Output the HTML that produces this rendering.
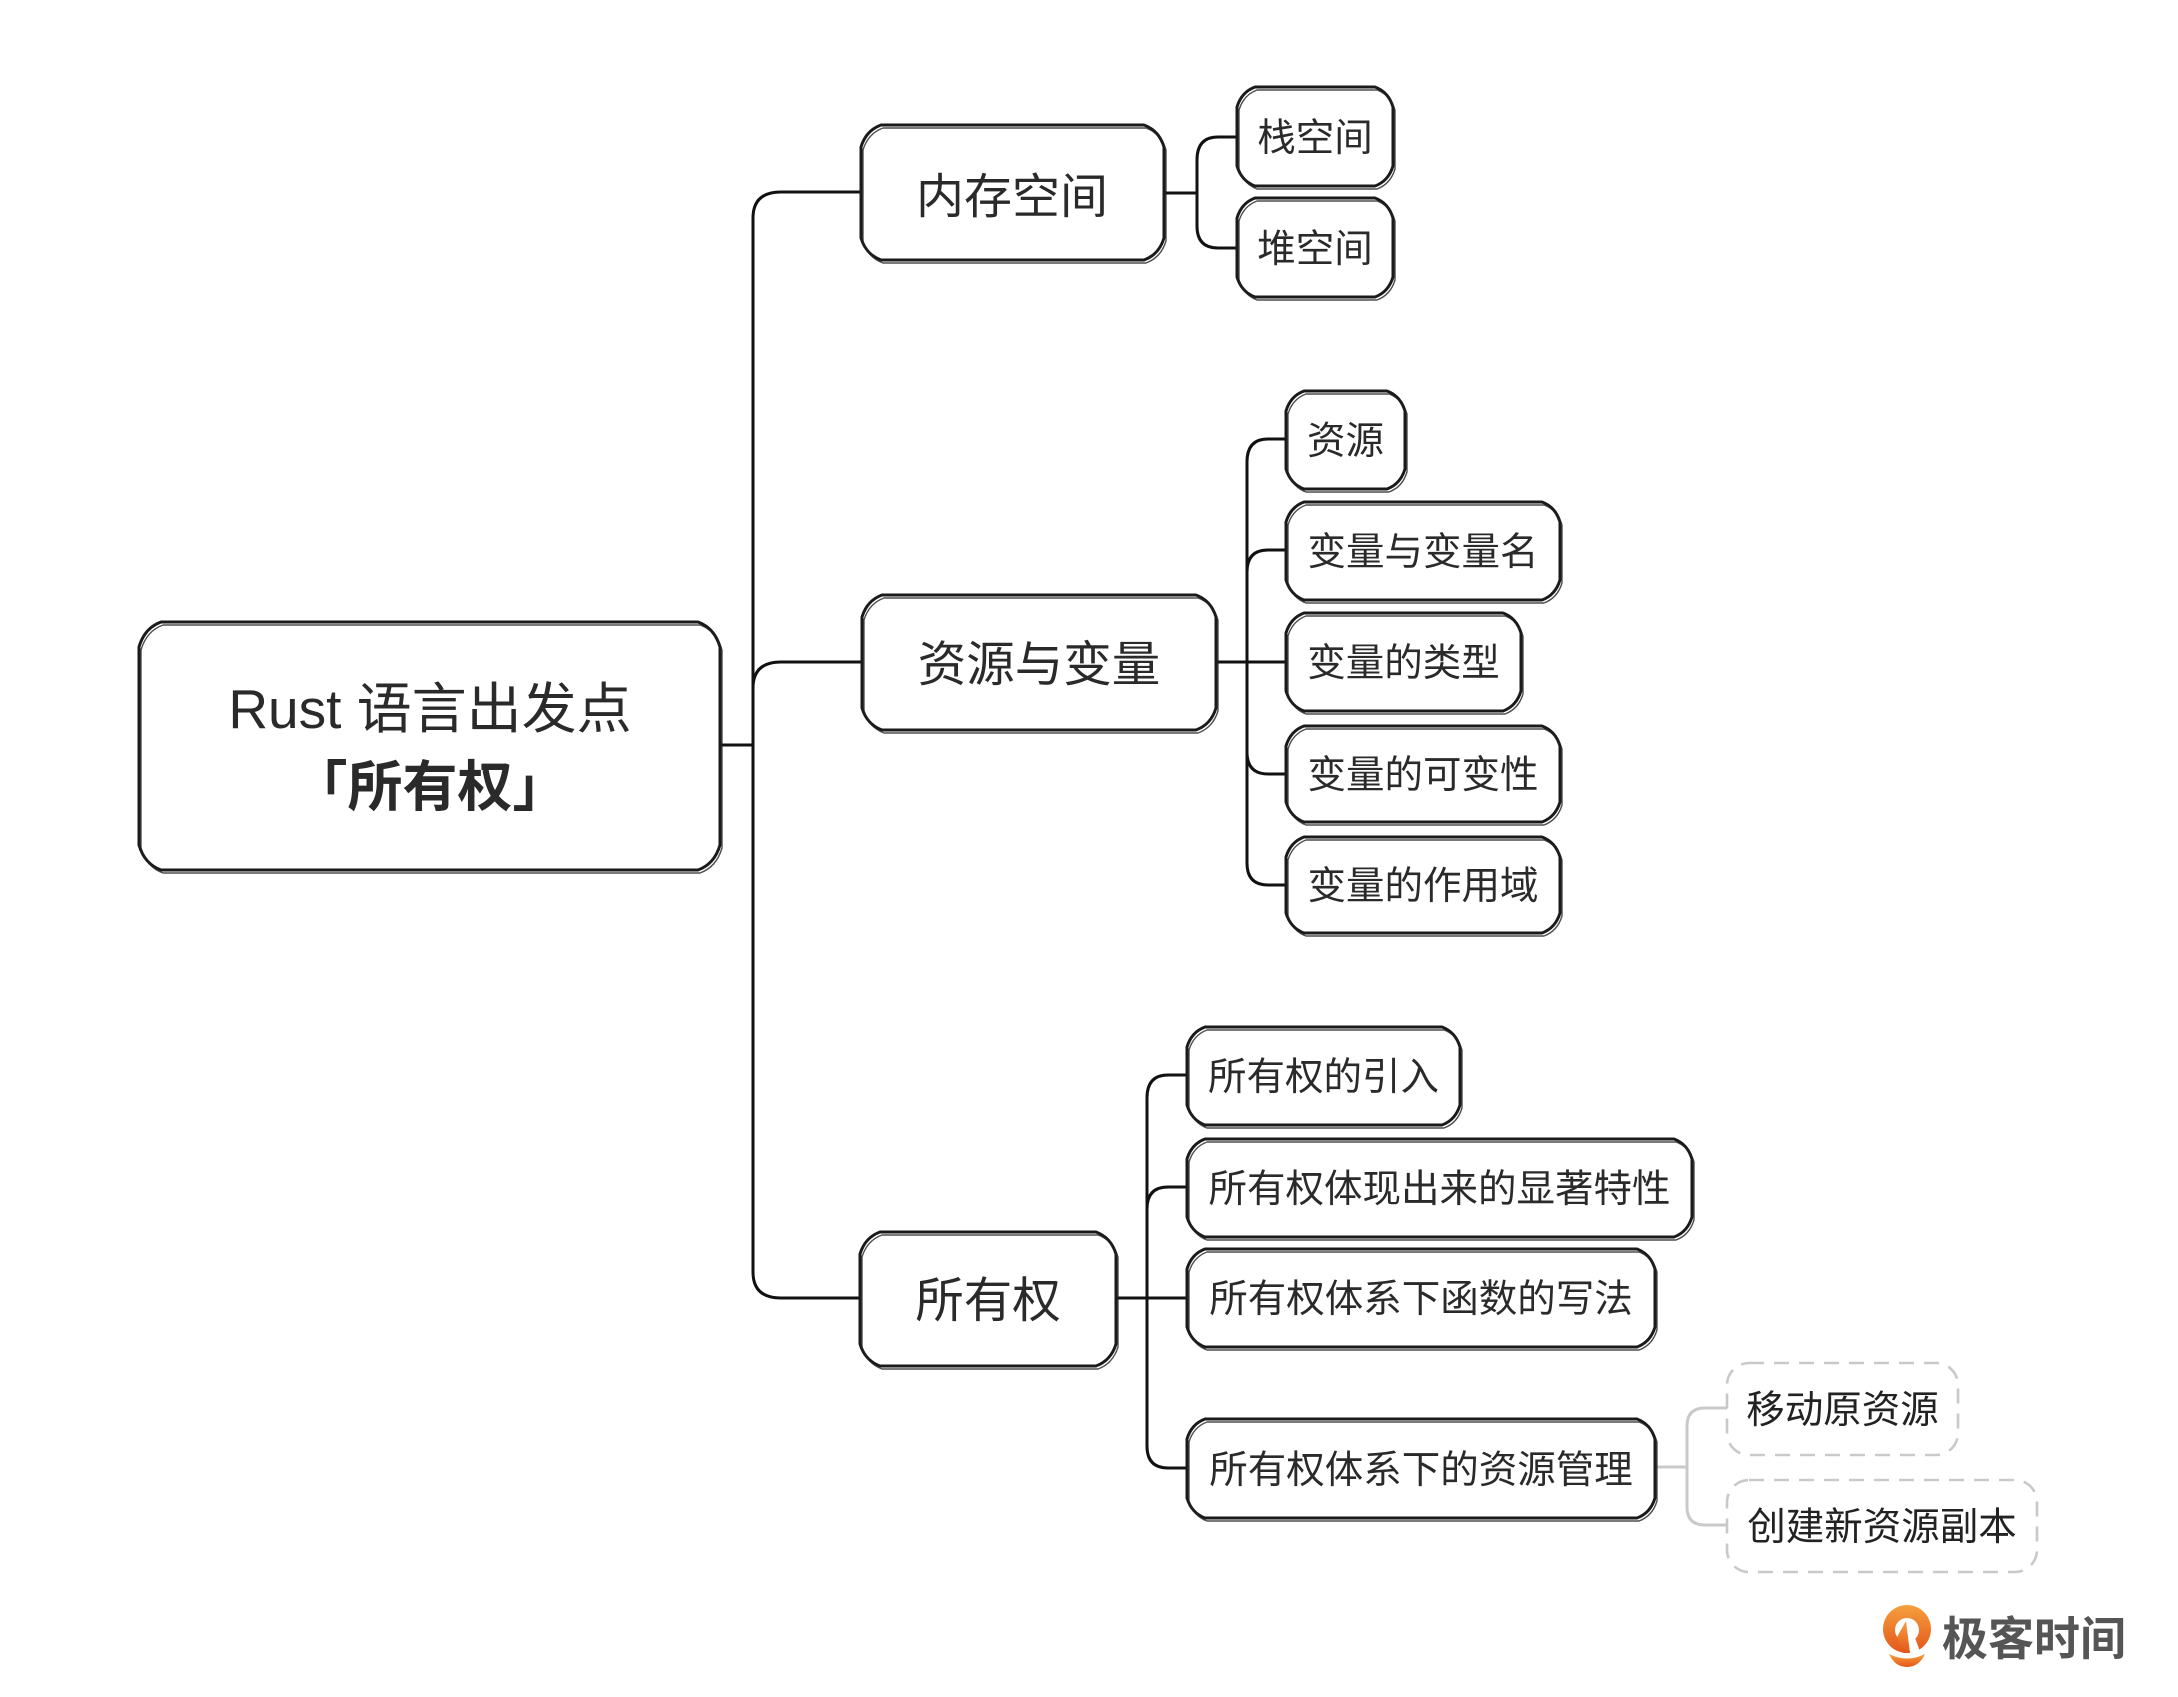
<!DOCTYPE html>
<html>
<head>
<meta charset="utf-8">
<style>
  html,body{margin:0;padding:0;background:#fff;}
  svg{display:block;}
  .t{font-family:"Liberation Sans","Noto Sans CJK SC",sans-serif;fill:#2a2a2a;text-anchor:middle;}
</style>
</head>
<body>
<svg width="2178" height="1697" viewBox="0 0 2178 1697" xmlns="http://www.w3.org/2000/svg" xmlns:xlink="http://www.w3.org/1999/xlink">
  <defs>
    <linearGradient id="og" x1="0" y1="0" x2="0" y2="1">
      <stop offset="0" stop-color="#f5a03e"/>
      <stop offset="1" stop-color="#e4561a"/>
    </linearGradient>
    <path id="b0" d="M161,622 H698 Q714.5,628 720,647 V845 Q714.5,864 698,870 H161 Q144.5,864 139,845 V647 Q144.5,628 161,622 Z"/>
    <path id="b1" d="M881,125 H1144 Q1159,130.5 1164,147 V238 Q1159,254.5 1144,260 H881 Q866,254.5 861,238 V147 Q866,130.5 881,125 Z"/>
    <path id="b2" d="M1255,87 H1375 Q1388.5,92 1393,107 V166 Q1388.5,181 1375,186 H1255 Q1241.5,181 1237,166 V107 Q1241.5,92 1255,87 Z"/>
    <path id="b3" d="M1255,198 H1375 Q1388.5,203 1393,218 V277 Q1388.5,292 1375,297 H1255 Q1241.5,292 1237,277 V218 Q1241.5,203 1255,198 Z"/>
    <path id="b4" d="M882,595 H1196 Q1211,600.5 1216,617 V708 Q1211,724.5 1196,730 H882 Q867,724.5 862,708 V617 Q867,600.5 882,595 Z"/>
    <path id="b5" d="M1304,391 H1387 Q1400.5,396 1405,411 V469 Q1400.5,484 1387,489 H1304 Q1290.5,484 1286,469 V411 Q1290.5,396 1304,391 Z"/>
    <path id="b6" d="M1304,502 H1542 Q1555.5,507 1560,522 V580 Q1555.5,595 1542,600 H1304 Q1290.5,595 1286,580 V522 Q1290.5,507 1304,502 Z"/>
    <path id="b7" d="M1304,613 H1503 Q1516.5,618 1521,633 V691 Q1516.5,706 1503,711 H1304 Q1290.5,706 1286,691 V633 Q1290.5,618 1304,613 Z"/>
    <path id="b8" d="M1304,726 H1542 Q1555.5,731 1560,746 V802 Q1555.5,817 1542,822 H1304 Q1290.5,817 1286,802 V746 Q1290.5,731 1304,726 Z"/>
    <path id="b9" d="M1304,837 H1542 Q1555.5,842 1560,857 V913 Q1555.5,928 1542,933 H1304 Q1290.5,928 1286,913 V857 Q1290.5,842 1304,837 Z"/>
    <path id="b10" d="M880,1232 H1096 Q1111,1237.5 1116,1254 V1344 Q1111,1360.5 1096,1366 H880 Q865,1360.5 860,1344 V1254 Q865,1237.5 880,1232 Z"/>
    <path id="b11" d="M1205,1027 H1442 Q1455.5,1032 1460,1047 V1105 Q1455.5,1120 1442,1125 H1205 Q1191.5,1120 1187,1105 V1047 Q1191.5,1032 1205,1027 Z"/>
    <path id="b12" d="M1205,1139 H1674 Q1687.5,1144 1692,1159 V1217 Q1687.5,1232 1674,1237 H1205 Q1191.5,1232 1187,1217 V1159 Q1191.5,1144 1205,1139 Z"/>
    <path id="b13" d="M1205,1249 H1637 Q1650.5,1254 1655,1269 V1327 Q1650.5,1342 1637,1347 H1205 Q1191.5,1342 1187,1327 V1269 Q1191.5,1254 1205,1249 Z"/>
    <path id="b14" d="M1205,1419 H1637 Q1650.5,1424 1655,1439 V1498 Q1650.5,1513 1637,1518 H1205 Q1191.5,1513 1187,1498 V1439 Q1191.5,1424 1205,1419 Z"/>
  </defs>
  <rect x="0" y="0" width="2178" height="1697" fill="#fff"/>

  <!-- connectors -->
  <g fill="none" stroke="#111" stroke-width="3" stroke-linecap="round" stroke-linejoin="round">
    <path d="M720,745 H753"/>
    <path d="M753,745 V218 Q753,192 781,192 H861"/>
    <path d="M753,745 V688 Q753,662 781,662 H862"/>
    <path d="M753,745 V1272 Q753,1298 781,1298 H860"/>

    <path d="M1164,193 H1197"/>
    <path d="M1197,193 V160 Q1197,137 1218,137 H1237"/>
    <path d="M1197,193 V226 Q1197,248 1218,248 H1237"/>

    <path d="M1216,662 H1286"/>
    <path d="M1247,662 V462 Q1247,439 1268,439 H1286"/>
    <path d="M1247,662 V572 Q1247,550 1268,550 H1286"/>
    <path d="M1247,662 V752 Q1247,774 1268,774 H1286"/>
    <path d="M1247,662 V863 Q1247,885 1268,885 H1286"/>

    <path d="M1116,1298 H1187"/>
    <path d="M1147,1298 V1098 Q1147,1075 1168,1075 H1187"/>
    <path d="M1147,1298 V1209 Q1147,1187 1168,1187 H1187"/>
    <path d="M1147,1298 V1446 Q1147,1468 1168,1468 H1187"/>
  </g>
  <g fill="none" stroke="#c9c9c9" stroke-width="3" stroke-linecap="round">
    <path d="M1655,1467 H1687"/>
    <path d="M1687,1467 V1426 Q1687,1408 1705,1408 H1727"/>
    <path d="M1687,1467 V1507 Q1687,1525 1705,1525 H1727"/>
  </g>

  <!-- boxes: main stroke -->
  <g fill="#fff" stroke="#1a1a1a" stroke-width="3" stroke-linejoin="round">
    <use href="#b0" xlink:href="#b0"/>
    <use href="#b1" xlink:href="#b1"/>
    <use href="#b2" xlink:href="#b2"/>
    <use href="#b3" xlink:href="#b3"/>
    <use href="#b4" xlink:href="#b4"/>
    <use href="#b5" xlink:href="#b5"/>
    <use href="#b6" xlink:href="#b6"/>
    <use href="#b7" xlink:href="#b7"/>
    <use href="#b8" xlink:href="#b8"/>
    <use href="#b9" xlink:href="#b9"/>
    <use href="#b10" xlink:href="#b10"/>
    <use href="#b11" xlink:href="#b11"/>
    <use href="#b12" xlink:href="#b12"/>
    <use href="#b13" xlink:href="#b13"/>
    <use href="#b14" xlink:href="#b14"/>
  </g>
  <!-- boxes: sketchy second stroke -->
  <g fill="none" stroke="#222" stroke-width="1.4" stroke-linejoin="round" opacity="0.8">
    <use href="#b0" xlink:href="#b0" transform="translate(2,3)"/>
    <use href="#b1" xlink:href="#b1" transform="translate(2,3)"/>
    <use href="#b2" xlink:href="#b2" transform="translate(2,3)"/>
    <use href="#b3" xlink:href="#b3" transform="translate(2,3)"/>
    <use href="#b4" xlink:href="#b4" transform="translate(2,3)"/>
    <use href="#b5" xlink:href="#b5" transform="translate(2,3)"/>
    <use href="#b6" xlink:href="#b6" transform="translate(2,3)"/>
    <use href="#b7" xlink:href="#b7" transform="translate(2,3)"/>
    <use href="#b8" xlink:href="#b8" transform="translate(2,3)"/>
    <use href="#b9" xlink:href="#b9" transform="translate(2,3)"/>
    <use href="#b10" xlink:href="#b10" transform="translate(2,3)"/>
    <use href="#b11" xlink:href="#b11" transform="translate(2,3)"/>
    <use href="#b12" xlink:href="#b12" transform="translate(2,3)"/>
    <use href="#b13" xlink:href="#b13" transform="translate(2,3)"/>
    <use href="#b14" xlink:href="#b14" transform="translate(2,3)"/>
  </g>

  <!-- dashed boxes -->
  <g fill="#fff" stroke="#c9c9c9" stroke-width="2.6" stroke-dasharray="15 10">
    <rect x="1727" y="1363" width="231" height="92" rx="22" ry="22"/>
    <rect x="1727" y="1480" width="310" height="92" rx="22" ry="22"/>
  </g>

  <!-- text -->
  <text class="t" x="430" y="728" font-size="55">Rust 语言出发点</text>
  <text class="t" x="430" y="806" font-size="55" font-weight="bold">「所有权」</text>

  <text class="t" x="1012" y="213" font-size="48">内存空间</text>
  <text class="t" x="1315" y="151" font-size="38.5">栈空间</text>
  <text class="t" x="1315" y="262" font-size="38.5">堆空间</text>

  <text class="t" x="1039" y="681" font-size="48.5">资源与变量</text>
  <text class="t" x="1345.5" y="454" font-size="38.5">资源</text>
  <text class="t" x="1423" y="565" font-size="38.5">变量与变量名</text>
  <text class="t" x="1403.5" y="676" font-size="38.5">变量的类型</text>
  <text class="t" x="1423" y="788" font-size="38.5">变量的可变性</text>
  <text class="t" x="1423" y="899" font-size="38.5">变量的作用域</text>

  <text class="t" x="988" y="1317" font-size="48.5">所有权</text>
  <text class="t" x="1323.5" y="1090" font-size="38.5">所有权的引入</text>
  <text class="t" x="1439.5" y="1202" font-size="38.5">所有权体现出来的显著特性</text>
  <text class="t" x="1421" y="1312" font-size="38.5">所有权体系下函数的写法</text>
  <text class="t" x="1421" y="1483" font-size="38.5">所有权体系下的资源管理</text>

  <text class="t" x="1842.5" y="1423" font-size="38.5" style="fill:#222">移动原资源</text>
  <text class="t" x="1882" y="1540" font-size="38.5" style="fill:#222">创建新资源副本</text>

  <!-- logo -->
  <g>
    <circle cx="1907" cy="1629" r="24" fill="url(#og)"/>
    <circle cx="1907" cy="1630" r="12" fill="#fff"/>
    <polygon points="1903,1638 1915,1638 1921,1654 1909,1654" fill="#fff"/>
    <polygon points="1897,1637 1906,1621 1910,1653 1903,1653" fill="url(#og)"/>
    <path d="M1889,1654 Q1907,1663 1925,1654 Q1919,1667 1907,1667 Q1895,1667 1889,1654 Z" fill="url(#og)"/>
    <text x="1942" y="1655" font-size="46" font-weight="bold" style="font-family:'Liberation Sans','Noto Sans CJK SC',sans-serif;fill:#555">极客时间</text>
  </g>
</svg>
</body>
</html>
